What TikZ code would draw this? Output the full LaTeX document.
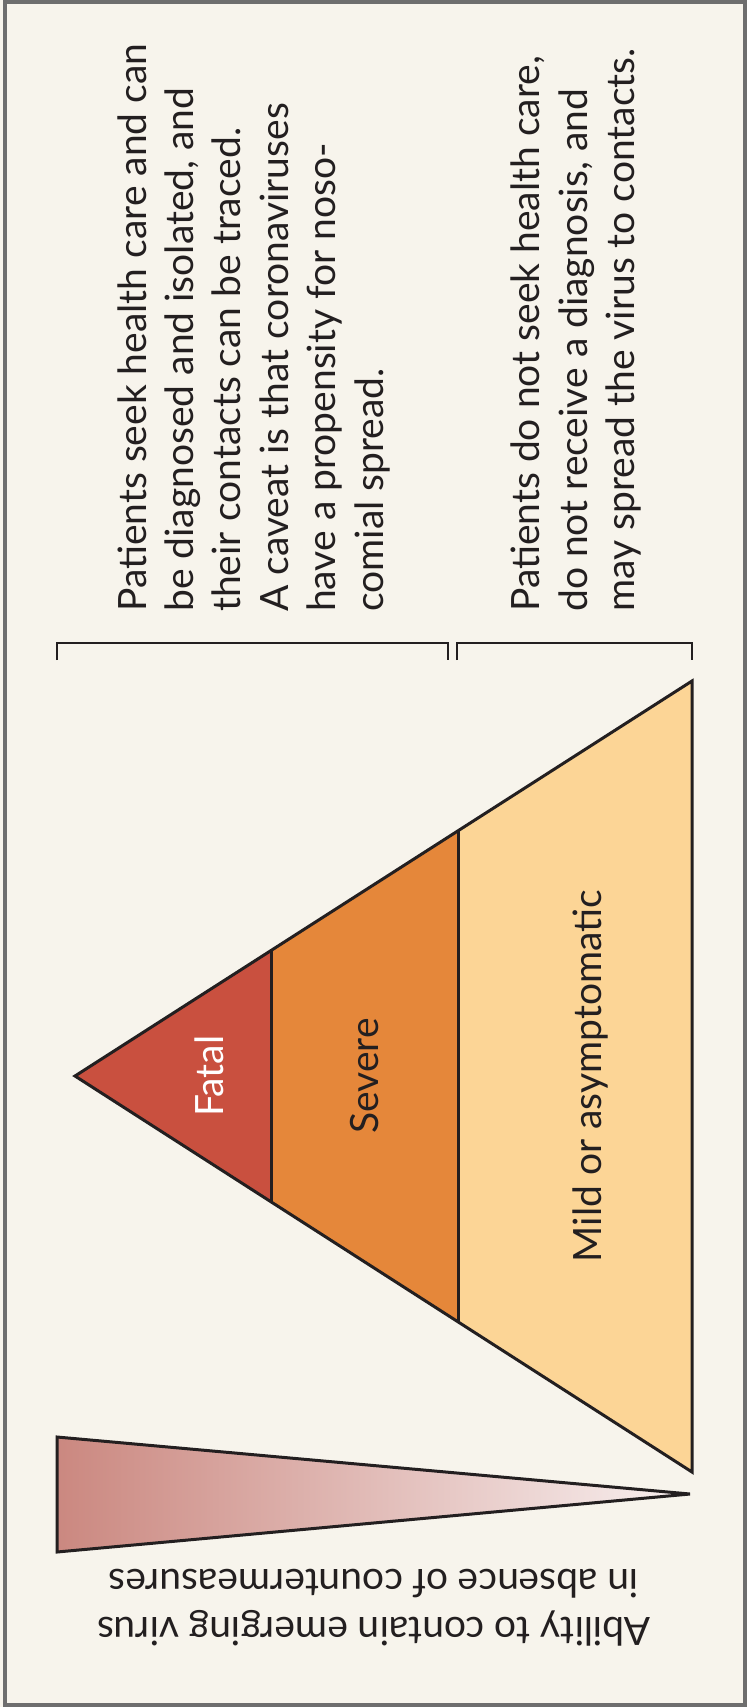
\documentclass[tikz,border=0pt]{standalone}
\usepackage{fontspec}
\setmainfont{Lato}
\usetikzlibrary{calc}

\definecolor{paper}{RGB}{247,244,236}
\definecolor{framegray}{RGB}{110,110,110}
\definecolor{ink}{RGB}{35,31,32}
\definecolor{fatalred}{RGB}{201,80,63}
\definecolor{severeorange}{RGB}{229,135,58}
\definecolor{mildorange}{RGB}{252,213,150}
\definecolor{wedgedark}{RGB}{203,136,128}
\definecolor{wedgelight}{RGB}{248,240,240}

\begin{document}
\begin{tikzpicture}[x = 1pt, y = -1pt,
    every node/.style = {inner sep = 0pt, text = ink, font = \fontsize{39}{47.5}\selectfont},
    outline/.style = {draw = ink, line width = 3pt, line join = miter},
    bracket/.style = {draw = ink, line width = 2.8pt}]
        % background and frame
        \fill[paper] (0,0) rectangle (747,1707);
        \draw[framegray, line width = 4pt] (5,2.5) rectangle (745,1705);
        % pyramid
        \coordinate (apex) at (75,1076);
        \coordinate (ptop) at (692,681);
        \coordinate (pbot) at (692,1472);
        \coordinate (ftop) at ($(apex)!0.319!(ptop)$);
        \coordinate (fbot) at ($(apex)!0.319!(pbot)$);
        \coordinate (stop) at ($(apex)!0.621!(ptop)$);
        \coordinate (sbot) at ($(apex)!0.621!(pbot)$);
        \fill[fatalred] (apex) -- (ftop) -- (fbot) -- cycle;
        \fill[severeorange] (ftop) -- (stop) -- (sbot) -- (fbot) -- cycle;
        \fill[mildorange] (stop) -- (ptop) -- (pbot) -- (sbot) -- cycle;
        \draw[outline] (apex) -- (ptop) -- (pbot) -- cycle;
        \draw[outline] (ftop) -- (fbot) (stop) -- (sbot);
        \node[rotate = 90, anchor = base, text = white] (fatal) at (223,1076) {Fatal};
        \node[rotate = 90, anchor = base] (severe) at (378,1076) {Severe};
        \node[rotate = 90, anchor = base] (mild) at (601,1076) {Mild or asymptomatic};
        % brackets
        \draw[bracket] (57,660) -- (57,643) -- (448,643) -- (448,660);
        \draw[bracket] (457,660) -- (457,643) -- (692,643) -- (692,660);
        % notes
        \foreach \txt [count = \i from 0] in {Patients seek health care and can,
            {be diagnosed and isolated, and}, their contacts can be traced.,
            A caveat is that coronaviruses, have a propensity for noso-, comial spread.}
            \node[rotate = 90, anchor = base west] (seek\i) at (146 + 47.4*\i, 612) {\txt};
        \foreach \txt [count = \i from 0] in {{Patients do not seek health care,},
            {do not receive a diagnosis, and}, may spread the virus to contacts.}
            \node[rotate = 90, anchor = base west] (noseek\i) at (539.5 + 47.5*\i, 612) {\txt};
        % wedge
        \coordinate (wtop) at (57,1437);
        \coordinate (wbot) at (57,1552);
        \coordinate (wtip) at (690,1494);
        \shade[left color = wedgedark, right color = wedgelight] (wtop) -- (wtip) -- (wbot) -- cycle;
        \draw[outline] (wtop) -- (wtip) -- (wbot) -- cycle;
        \node[rotate = 180, anchor = base] (ability) at (374,1617) {Ability to contain emerging virus};
        \node[rotate = 180, anchor = base] (absence) at (374,1569.5) {in absence of countermeasures};
\end{tikzpicture}
\end{document}
